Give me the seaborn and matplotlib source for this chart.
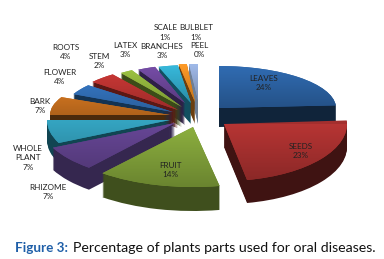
import numpy as np
import matplotlib
matplotlib.use('Agg')
import matplotlib.pyplot as plt
from matplotlib.colors import LinearSegmentedColormap, to_rgb
from matplotlib.transforms import Affine2D
import seaborn as sns

parts = ['LEAVES', 'SEEDS', 'FRUIT', 'RHIZOME', 'WHOLE\nPLANT', 'BARK', 'FLOWER', 'ROOTS',
         'STEM', 'LATEX', 'BRANCHES', 'SCALE', 'BULBLET', 'PEEL']
percent = [24, 23, 14, 7, 7, 7, 4, 4, 2, 3, 3, 1, 1, 0]

colors = ['#2b609f', '#a32f2e', '#7d9c38', '#5c3f86', '#2f93ad', '#cf7420', '#3270b8', '#b93331',
          '#8fb23c', '#6a4596', '#31a5c4', '#e88a22', '#8fa6d0', '#c98a88']
sides = ['#10243a', '#3f1312', '#3f4f1d', '#35274f', '#114552', '#4a2a0c', '#143352', '#5a1815',
         '#3c4c18', '#2e2046', '#124f60', '#6b3f10', '#6f7f95', '#7a5050']

# apex x, apex y, radius x, radius y, depth of each exploded slice, in pixels
shape = [(219, 108, 117, 42, 19), (224, 124, 123, 57, 23), (193, 127, 142, 60, 24),
         (175, 123, 135, 58, 22), (170, 120, 123, 54, 20), (170, 115, 120, 42, 18),
         (173, 112, 110, 42, 18), (178, 110, 111, 44, 18), (182, 107, 104, 42, 20),
         (185, 103, 97, 38, 22), (191, 103, 105, 38, 21), (195, 102, 130, 38, 22),
         (198, 100, 144, 36, 24), (198, 100, 144, 36, 24)]
# back slices first
draw_order = [13, 12, 11, 10, 9, 8, 7, 6, 5, 4, 0, 3, 1, 2]

label_pos = [(264, 83), (301, 151), (170, 170), (48, 192), (28, 158), (40, 106), (60, 77), (66, 52),
             (99, 61), (125, 50), (162, 51), (165.5, 32), (196, 32), (199, 50)]

sns.set_theme(style='white')
plt.rcParams['font.family'] = ['Lato', 'DejaVu Sans']

fig, ax = plt.subplots(figsize=(3.84, 2.59), dpi=100)
fig.subplots_adjust(0, 0, 1, 1)

for d in range(0, 25):
    wedges, _ = ax.pie(percent, startangle=90, counterclock=False, colors=sides,
                       wedgeprops={'linewidth': 0})
    for i, w in enumerate(wedges):
        x0, y0, rx, ry, depth = shape[i]
        w.set_visible(d <= depth)
        w.set_transform(Affine2D().scale(rx, -ry).translate(x0, y0 + d) + ax.transData)
        w.set_zorder(draw_order.index(i) * 10 + 1)
        if d == 0:
            # top face, shaded with a vertical gradient
            w.set_facecolor(colors[i])
            w.set_zorder(draw_order.index(i) * 10 + 3)
            c = np.array(to_rgb(colors[i]))
            cmap = LinearSegmentedColormap.from_list('f', [np.clip(c * 1.12, 0, 1), np.clip(c * 0.85, 0, 1)])
            mid = np.radians((w.theta1 + w.theta2) / 2)
            top, bottom = (y0 - ry, y0) if np.sin(mid) > 0 else (y0, y0 + ry)
            im = ax.imshow(np.linspace(0, 1, 64).reshape(-1, 1), cmap=cmap, aspect='auto',
                           extent=(x0 - rx, x0 + rx, bottom, top), origin='upper',
                           zorder=draw_order.index(i) * 10 + 4)
            im.set_clip_path(w)

for name, value, (x, y) in zip(parts, percent, label_pos):
    if name in ('SCALE', 'BULBLET'):
        ax.text(x, y - 5, name, ha='center', va='center', fontsize=5.9, color='#222222', zorder=500)
        ax.text(x - 0.5, y + 6, f'{value}%', ha='center', va='center', fontsize=5.9, color='#222222', zorder=500)
    else:
        ax.text(x, y, f'{name}\n{value}%', ha='center', va='center', fontsize=5.9, color='#222222',
                linespacing=1.35, zorder=500)

ax.text(15, 248, 'Figure 3:', fontsize=9.7, fontweight='bold', color='#1f5fa8', va='center', zorder=500)
ax.text(73, 248, 'Percentage of plants parts used for oral diseases.', fontsize=10.2, color='#111111',
        va='center', zorder=500)

ax.set_aspect('auto')
ax.set_xlim(0, 384)
ax.set_ylim(259, 0)
ax.axis('off')
fig.savefig('out.png', dpi=100)
